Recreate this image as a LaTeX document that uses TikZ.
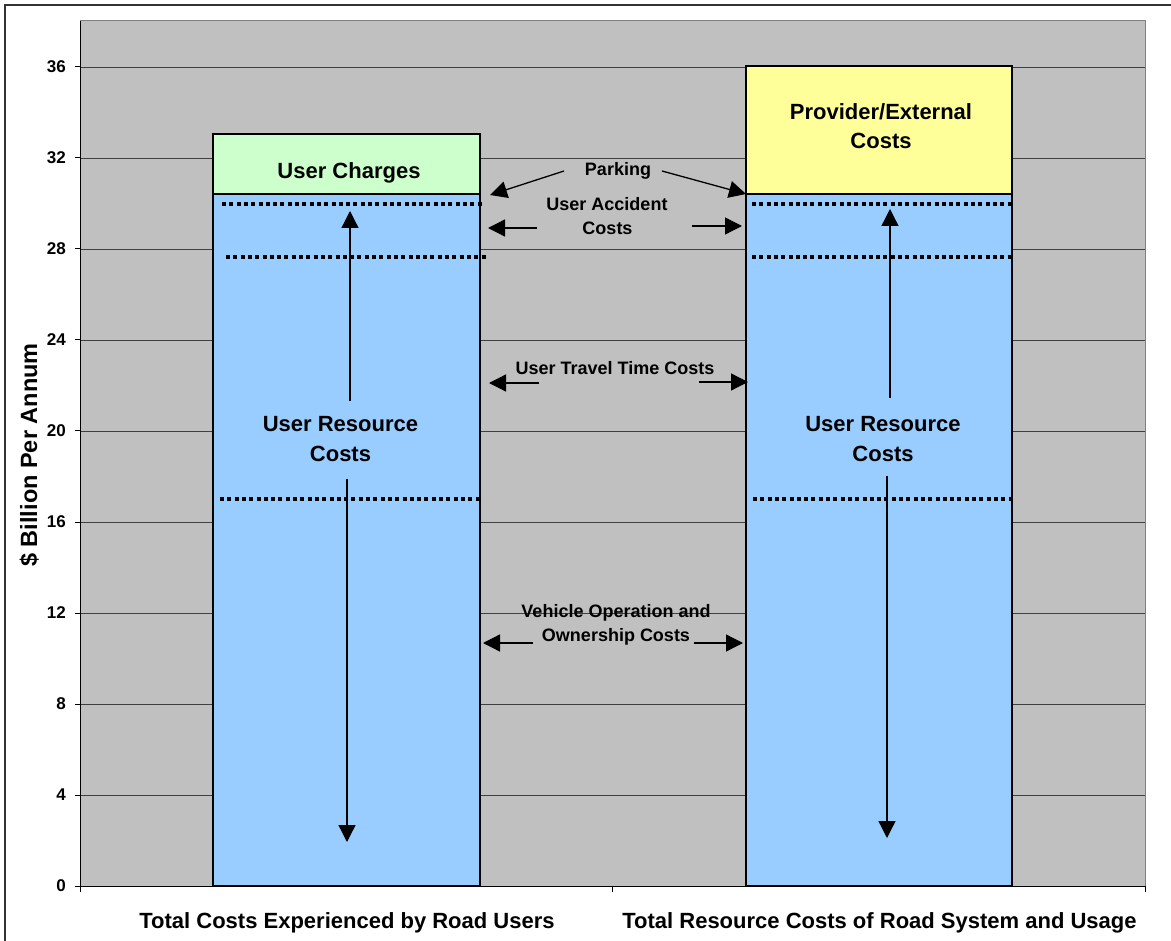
\documentclass[tikz,border=0pt]{standalone}
\usepackage{fontspec}
\setmainfont{Liberation Sans}
\usetikzlibrary{arrows.meta}
\definecolor{plotgray}{HTML}{C0C0C0}
\definecolor{barblue}{HTML}{99CCFF}
\definecolor{bargreen}{HTML}{CCFFCC}
\definecolor{baryellow}{HTML}{FFFF99}
\begin{document}
\begin{tikzpicture}[x=1pt,y=-1pt,
  gridl/.style={black!75,line width=0.9pt},
  barbox/.style={draw=black,line width=2.4pt},
  dotl/.style={line width=4pt,dash pattern=on 4pt off 3.3pt},
  bigtxt/.style={font=\fontsize{22}{26}\selectfont\bfseries,anchor=base,inner sep=0pt},
  midtxt/.style={font=\fontsize{18}{21}\selectfont\bfseries,anchor=base,inner sep=0pt},
  ticktxt/.style={font=\fontsize{17}{20}\selectfont\bfseries,anchor=base east,inner sep=0pt},
  arr/.style={line width=1.3pt,-{Triangle[width=17pt,length=17pt]}},
  ]
\useasboundingbox (0,0) rectangle (1171,941);
\fill[white] (0,0) rectangle (1171,941);
% outer chart border
\draw[black!80,line width=1.8pt] (5,941) -- (5,5) -- (1171,5);
% plot area
\fill[plotgray] (80,21) rectangle (1145,886);
\draw[gray,line width=1pt] (80,21) -- (1145,21) -- (1145,886);
% grid lines
\foreach \v in {4,8,...,36} {
  \draw[gridl] (80,{886-22.75*\v}) -- (1145,{886-22.75*\v});
}
% bars
\filldraw[barbox,fill=barblue] (213,194) rectangle (480,886);
\filldraw[barbox,fill=bargreen] (213,134) rectangle (480,194);
\filldraw[barbox,fill=barblue] (746,194) rectangle (1012,886);
\filldraw[barbox,fill=baryellow] (746,66) rectangle (1012,194);
% dotted dividers
\draw[dotl] (222,204) -- (483,204);
\draw[dotl] (226,257) -- (487,257);
\draw[dotl] (220,499) -- (482,499);
\draw[dotl] (752,204) -- (1012,204);
\draw[dotl] (752,257) -- (1012,257);
\draw[dotl] (753,499) -- (1015,499);
% axes
\draw[black,line width=1pt] (80,21) -- (80,886) -- (1145,886);
\foreach \v in {0,4,...,36} {
  \draw[black,line width=1pt] (75,{886-22.75*\v}) -- (80,{886-22.75*\v});
  \node[ticktxt] (tick\v) at (66,{886-22.75*\v+5.7}) {\v};
}
\foreach \x in {80,612.5,1145} {
  \draw[black,line width=1pt] (\x,886) -- (\x,892);
}
% axis titles
\node[font=\fontsize{23.5}{27}\selectfont\bfseries,rotate=90,anchor=base,inner sep=0pt] (ylab) at (37,455) {\$ Billion Per Annum};
\node[bigtxt] (xlab1) at (347,928.3) {Total Costs Experienced by Road Users};
\node[bigtxt] (xlab2) at (879.5,928.3) {Total Resource Costs of Road System and Usage};
% bar labels
\node[bigtxt] (uc) at (349,178.3) {User Charges};
\node[bigtxt] (pe1) at (881,120) {Provider/External};
\node[bigtxt] (pe2) at (881,148.7) {Costs};
\node[bigtxt] (urL1) at (340.5,431.7) {User Resource};
\node[bigtxt] (urL2) at (340.5,461.7) {Costs};
\node[bigtxt] (urR1) at (883,431.7) {User Resource};
\node[bigtxt] (urR2) at (883,461.7) {Costs};
% middle labels
\node[midtxt] (park) at (618,175.7) {Parking};
\node[midtxt] (acc1) at (607,211) {User Accident};
\node[midtxt] (acc2) at (607.5,234.3) {Costs};
\node[midtxt] (trav) at (615,375) {User Travel Time Costs};
\node[midtxt] (veh1) at (616,617) {Vehicle Operation and};
\node[midtxt] (veh2) at (616,641) {Ownership Costs};
% arrow end points
\coordinate (upLs) at (350,401);  \coordinate (upLt) at (350,211);
\coordinate (dnLs) at (347,479);  \coordinate (dnLt) at (347,842);
\coordinate (upRs) at (890,398);  \coordinate (upRt) at (890,209);
\coordinate (dnRs) at (887,476);  \coordinate (dnRt) at (887,838);
\coordinate (pkLs) at (564,171);  \coordinate (pkLt) at (490,195);
\coordinate (pkRs) at (662,171);  \coordinate (pkRt) at (746,194);
\coordinate (acLs) at (537,228);  \coordinate (acLt) at (488,228);
\coordinate (acRs) at (692,226);  \coordinate (acRt) at (742,226);
\coordinate (trLs) at (539,383);  \coordinate (trLt) at (489,383);
\coordinate (trRs) at (699,382);  \coordinate (trRt) at (748,382);
\coordinate (veLs) at (533,643);  \coordinate (veLt) at (483,643);
\coordinate (veRs) at (694,643);  \coordinate (veRt) at (743,643);
% arrows
\draw[arr] (upLs) -- (upLt);
\draw[arr] (dnLs) -- (dnLt);
\draw[arr] (upRs) -- (upRt);
\draw[arr] (dnRs) -- (dnRt);
\draw[arr] (pkLs) -- (pkLt);
\draw[arr] (pkRs) -- (pkRt);
\draw[arr] (acLs) -- (acLt);
\draw[arr] (acRs) -- (acRt);
\draw[arr] (trLs) -- (trLt);
\draw[arr] (trRs) -- (trRt);
\draw[arr] (veLs) -- (veLt);
\draw[arr] (veRs) -- (veRt);
\end{tikzpicture}
\end{document}
